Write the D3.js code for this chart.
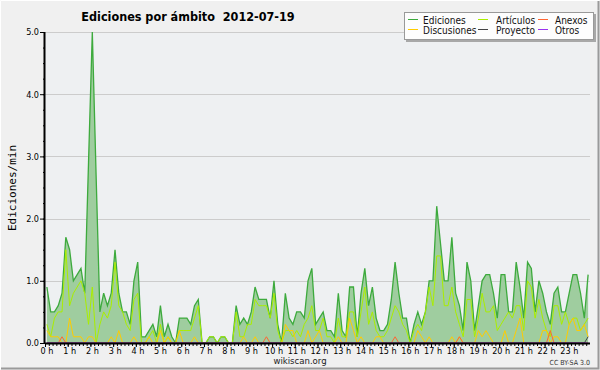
<!DOCTYPE html>
<html>
<head>
<meta charset="utf-8">
<script src="https://cdn.jsdelivr.net/npm/d3@7"></script>
<style>
  body { margin: 0; background: #f0f0f0; }
  text { font-family: "DejaVu Sans Condensed", "DejaVu Sans", sans-serif; }
</style>
</head>
<body>
<div id="chart"></div>
<script>
// one value per 10 minutes (edits per minute), 144 slots
const ediciones = [
  0.9,0.5,0.5,0.6,0.8,1.7,1.5,1.0,1.1,1.2,0.8,2.9,
  5.0,2.7,0.5,0.8,0.6,0.8,1.5,0.8,0.5,0.5,0.3,1.0,
  1.3,0.1,0.1,0.2,0.3,0.1,0.6,0.1,0.3,0.1,0.0,0.4,
  0.4,0.4,0.3,0.6,0.7,0.0,0.0,0.1,0.1,0.0,0.1,0.1,
  0.0,0.0,0.6,0.3,0.4,0.3,0.5,0.9,0.7,0.7,0.7,0.4,
  1.0,0.3,0.0,0.8,0.4,0.3,0.5,0.5,0.4,1.0,1.2,0.3,
  0.4,0.5,0.2,0.2,0.1,0.8,0.2,0.1,0.9,0.9,0.1,0.8,
  1.2,0.6,0.9,0.4,0.2,0.2,0.3,0.7,1.3,0.8,0.4,0.4,
  0.0,0.3,0.5,0.3,0.5,1.0,1.0,2.2,1.6,1.0,1.0,1.7,
  0.8,0.6,0.2,1.3,1.0,0.2,0.6,1.0,1.1,1.1,0.8,0.4,
  1.1,1.1,0.5,0.5,1.3,0.9,0.4,1.3,1.2,0.5,1.0,0.8,
  0.5,0.3,0.8,0.9,0.5,0.5,0.8,1.1,1.1,0.8,0.4,1.1
];
const articulos = [
  0.3,0.1,0.4,0.5,0.5,1.5,0.6,0.8,0.9,1.0,0.8,0.3,
  0.9,0.0,0.3,0.5,0.4,0.6,1.3,0.6,0.5,0.3,0.2,0.7,
  0.8,0.0,0.0,0.1,0.2,0.0,0.3,0.0,0.1,0.0,0.0,0.2,
  0.2,0.2,0.2,0.4,0.6,0.0,0.0,0.1,0.1,0.0,0.1,0.1,
  0.0,0.0,0.5,0.1,0.1,0.3,0.3,0.7,0.6,0.6,0.6,0.4,
  0.8,0.2,0.0,0.2,0.2,0.1,0.2,0.1,0.3,0.4,0.6,0.2,
  0.2,0.4,0.1,0.1,0.0,0.4,0.1,0.1,0.5,0.5,0.1,0.5,
  0.9,0.3,0.5,0.2,0.1,0.1,0.2,0.4,0.6,0.5,0.3,0.2,
  0.0,0.2,0.3,0.2,0.5,0.9,0.6,1.4,1.4,0.6,0.6,0.9,
  0.5,0.3,0.1,0.7,0.7,0.1,0.4,0.8,0.5,0.5,0.6,0.2,
  0.3,0.4,0.5,0.4,0.6,0.6,0.2,1.0,0.9,0.4,0.7,0.4,
  0.2,0.1,0.6,0.6,0.3,0.5,0.3,0.4,0.4,0.2,0.3,0.4
];
const discusiones = [
  0.2,0.1,0.1,0.1,0,0,0.4,0.1,0.1,0.1,0,0.1,
  0.1,0,0,0,0,0.1,0,0.2,0,0,0,0.1,
  0,0,0,0.1,0,0,0.2,0,0.1,0,0,0.2,
  0,0,0,0.1,0,0,0,0,0,0,0,0,
  0,0,0,0,0.1,0,0,0.1,0,0,0,0,
  0,0,0,0.3,0.2,0.2,0,0,0,0.2,0,0.1,
  0.2,0,0,0,0,0.1,0,0,0.4,0.2,0,0.1,
  0,0,0,0.1,0.1,0,0,0,0,0,0,0,
  0,0,0.2,0.1,0,0.1,0,0,0,0,0,0.1,
  0,0.1,0,0,0,0,0.2,0.1,0.2,0.1,0,0,
  0,0.2,0,0,0.2,0.4,0,0,0,0,0,0.2,
  0.2,0,0.1,0.1,0,0,0.3,0.4,0.2,0.2,0.3,0.1
];
const anexos = [
  0,0,0,0,0.1,0,0,0,0,0,0,0,
  0,0,0,0,0,0,0,0,0,0,0,0,
  0,0,0,0,0,0,0,0,0,0,0,0,
  0,0,0,0,0,0,0,0,0,0,0,0,
  0,0,0,0,0,0,0,0,0,0,0.1,0,
  0,0,0,0,0,0,0,0,0,0,0,0,
  0,0,0,0,0,0,0,0,0,0,0,0,
  0,0,0,0,0,0,0,0,0.1,0,0,0,
  0,0,0,0,0,0,0,0,0,0,0,0,
  0,0.1,0,0,0,0,0,0,0,0,0,0,
  0,0,0,0,0,0,0,0,0,0,0,0,
  0,0.2,0,0,0,0,0,0,0,0,0,0
];
const proyecto = [
  0,0,0,0,0,0,0,0,0,0,0,0,
  0,0,0,0,0,0,0,0,0,0,0,0,
  0,0,0,0,0,0,0,0,0,0,0,0,
  0,0,0,0,0,0,0,0,0,0,0,0,
  0,0,0,0,0,0,0,0,0,0,0,0,
  0,0,0,0,0,0,0,0,0,0,0,0,
  0,0,0,0,0,0,0,0,0,0,0,0,
  0,0,0,0,0,0,0,0,0,0,0,0,
  0,0,0,0,0,0,0,0,0,0,0,0,
  0,0,0,0,0,0,0,0,0,0,0,0,
  0,0,0,0,0,0,0,0,0,0,0,0,
  0,0,0,0,0,0,0,0,0,0,0,0.1
];
const otros = new Array(144).fill(0);

const hourLabels = d3.range(0, 24).map(h => h + ' h');
const yTicks = [0, 1, 2, 3, 4, 5];

const series = [
  { name: 'Ediciones',   values: ediciones,   color: '#3daa3d' },
  { name: 'Artículos',   values: articulos,   color: '#aaee00' },
  { name: 'Discusiones', values: discusiones, color: '#ffcc00' },
  { name: 'Anexos',      values: anexos,      color: '#ff6633' },
  { name: 'Proyecto',    values: proyecto,    color: '#444444' },
  { name: 'Otros',       values: otros,       color: '#9933ee' }
];

const W = 600, H = 370;
const plot = { left: 45, right: 590, top: 32, bottom: 343 };

const svg = d3.select('#chart').append('svg')
  .attr('width', W).attr('height', H);

// canvas + 3d frame
svg.append('rect').attr('width', W).attr('height', H).attr('fill', '#f0f0f0');
svg.append('path').attr('d', `M0.5,${H - 0.5}V0.5H${W - 0.5}`).attr('stroke', '#ffffff').attr('fill', 'none');
svg.append('path').attr('d', `M1,${H - 1.5}H${W - 1.5}V1`).attr('stroke', '#9a9a9a').attr('fill', 'none').attr('stroke-width', 2);

svg.append('rect')
  .attr('x', plot.left).attr('y', plot.top)
  .attr('width', plot.right - plot.left).attr('height', plot.bottom - plot.top)
  .attr('fill', '#eef0f2');

const x = d3.scaleLinear().domain([0, 24]).range([plot.left, plot.right]);
const y = d3.scaleLinear().domain([0, 5]).range([plot.bottom, plot.top]);
// each value sits in the middle of its 10 minute slot
const xOf = (d, i) => x((i + 0.5) / 6);

// grid
svg.append('g').selectAll('line')
  .data(yTicks.slice(1))
  .enter().append('line')
  .attr('x1', plot.left).attr('x2', plot.right)
  .attr('y1', d => Math.round(y(d)) + 0.5).attr('y2', d => Math.round(y(d)) + 0.5)
  .attr('stroke', '#cccccc');

// ediciones area
const area = d3.area().x(xOf).y0(y(0)).y1(d => y(d));
svg.append('path')
  .datum(ediciones)
  .attr('d', area)
  .attr('fill', '#9fcd9f');

// lines: ediciones first, the rest on top
const line = d3.line().x(xOf).y(d => y(d));
series.forEach(s => {
  svg.append('path')
    .datum(s.values)
    .attr('d', line)
    .attr('fill', 'none')
    .attr('stroke', s.color)
    .attr('stroke-width', s.name === 'Ediciones' ? 1.3 : 1);
});

// axes
const xMinor = svg.append('g')
  .attr('transform', `translate(0,${plot.bottom})`)
  .call(d3.axisBottom(x).tickValues(d3.range(0, 144).map(i => i / 6)).tickSize(3).tickFormat(''));
xMinor.select('.domain').remove();

const xAxis = svg.append('g')
  .attr('transform', `translate(0,${plot.bottom})`)
  .call(d3.axisBottom(x).tickValues(d3.range(0, 24)).tickSize(4).tickPadding(1)
    .tickFormat((d, i) => hourLabels[i]));
xAxis.select('.domain').attr('d', `M${plot.left},0.5H${plot.right}`).attr('stroke-width', 2);
xAxis.selectAll('text').attr('font-size', 9).attr('fill', '#000').attr('dx', 1.5)
  .style('font-family', '"DejaVu Sans Condensed","DejaVu Sans",sans-serif');

const yMinor = svg.append('g')
  .attr('transform', `translate(${plot.left},0)`)
  .call(d3.axisLeft(y).tickValues(d3.range(0, 5.01, 0.25)).tickSize(2).tickFormat(''));
yMinor.select('.domain').remove();

const yAxis = svg.append('g')
  .attr('transform', `translate(${plot.left},0)`)
  .call(d3.axisLeft(y).tickValues(yTicks).tickSize(5).tickPadding(1).tickFormat(d3.format('.1f')));
yAxis.select('.domain').attr('d', `M-0.5,${plot.top}V${plot.bottom}`).attr('stroke-width', 2);
yAxis.selectAll('text').attr('font-size', 9).attr('fill', '#000')
  .style('font-family', '"DejaVu Sans Condensed","DejaVu Sans",sans-serif');

// title and labels
svg.append('text')
  .attr('x', 188).attr('y', 21)
  .attr('text-anchor', 'middle')
  .attr('font-size', 12.5).attr('font-weight', 'bold')
  .attr('xml:space', 'preserve')
  .text('Ediciones por ámbito  2012-07-19');

svg.append('text')
  .attr('transform', 'translate(16,188) rotate(-90)')
  .attr('text-anchor', 'middle')
  .attr('font-size', 11)
  .style('font-family', '"DejaVu Sans Mono",monospace')
  .text('Ediciones/min');

svg.append('text')
  .attr('x', 300).attr('y', 364)
  .attr('text-anchor', 'middle')
  .attr('font-size', 9.5).attr('fill', '#222')
  .text('wikiscan.org');

svg.append('text')
  .attr('x', 590).attr('y', 365)
  .attr('text-anchor', 'end')
  .attr('font-size', 7).attr('fill', '#333')
  .text('CC BY-SA 3.0');

// legend
const lg = svg.append('g');
lg.append('rect').attr('x', 406).attr('y', 14).attr('width', 190).attr('height', 28).attr('fill', '#a8a8a8');
lg.append('rect').attr('x', 404.5).attr('y', 12.5).attr('width', 189).attr('height', 27)
  .attr('fill', '#fdfdfd').attr('stroke', '#999');

const legendOrder = ['Ediciones', 'Artículos', 'Anexos', 'Discusiones', 'Proyecto', 'Otros'];
const lineX = [408, 478, 538];
const textX = [423, 496, 555];
const rowY = [20, 30];
legendOrder.forEach((name, k) => {
  const s = series.find(d => d.name === name);
  const c = k % 3, cy = rowY[Math.floor(k / 3)];
  lg.append('line')
    .attr('x1', lineX[c]).attr('x2', lineX[c] + 10)
    .attr('y1', cy - 0.5).attr('y2', cy - 0.5)
    .attr('stroke', s.color);
  lg.append('text')
    .attr('x', textX[c]).attr('y', cy + 3.5)
    .attr('font-size', 10).attr('fill', '#111')
    .text(name);
});
</script>
</body>
</html>
